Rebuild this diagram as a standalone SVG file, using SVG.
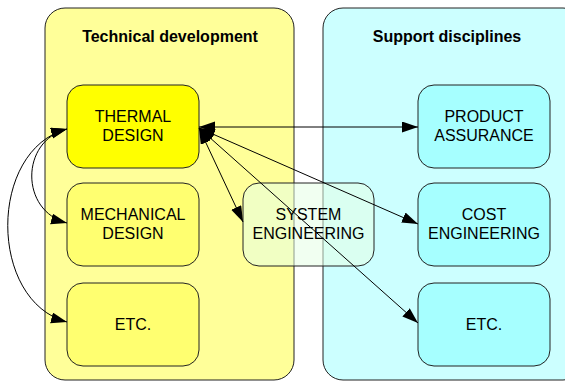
<svg xmlns="http://www.w3.org/2000/svg" width="565" height="381" viewBox="0 0 565 381">
<style>
.cont{stroke:#222;stroke-width:1}
.node{stroke:#222;stroke-width:1}
.t{font-family:"Liberation Sans",Arial,sans-serif;font-size:16px;fill:#000;text-anchor:middle}
.h{font-family:"Liberation Sans",Arial,sans-serif;font-size:16px;font-weight:bold;fill:#000;text-anchor:middle}
.c{fill:none;stroke:#000;stroke-width:1;marker-start:url(#ah);marker-end:url(#ah)}
</style>
<defs>
<marker id="ah" markerUnits="userSpaceOnUse" markerWidth="17" markerHeight="12" refX="16" refY="5.5" orient="auto-start-reverse">
<path d="M0,0 L16,5.5 L0,11 Z" fill="#000"/>
</marker>
</defs>
<rect width="565" height="381" fill="#fff"/>
<g id="technical-development">
<rect class="cont" x="45" y="8" width="249" height="372" rx="20" fill="#ffff99"/>
<text class="h" x="170" y="42">Technical development</text>
</g>
<g id="support-disciplines">
<rect class="cont" x="323" y="8" width="260" height="372" rx="20" fill="#ccffff"/>
<text class="h" x="447" y="42">Support disciplines</text>
</g>
<g id="thermal-design">
<rect class="node" x="67" y="85" width="132" height="83" rx="16" fill="#ffff00"/>
<text class="t" x="133" y="121.5">THERMAL</text>
<text class="t" x="133" y="141">DESIGN</text>
</g>
<g id="mechanical-design">
<rect class="node" x="67" y="183" width="132" height="83" rx="16" fill="#ffff70"/>
<text class="t" x="133" y="219.5">MECHANICAL</text>
<text class="t" x="133" y="239">DESIGN</text>
</g>
<g id="etc-left">
<rect class="node" x="67" y="283" width="132" height="83" rx="16" fill="#ffff70"/>
<text class="t" x="133" y="330">ETC.</text>
</g>
<g id="product-assurance">
<rect class="node" x="418" y="85" width="132" height="83" rx="16" fill="#a6ffff"/>
<text class="t" x="484" y="121.5">PRODUCT</text>
<text class="t" x="484" y="141">ASSURANCE</text>
</g>
<g id="cost-engineering">
<rect class="node" x="418" y="183" width="132" height="83" rx="16" fill="#a6ffff"/>
<text class="t" x="484" y="219.5">COST</text>
<text class="t" x="484" y="239">ENGINEERING</text>
</g>
<g id="etc-right">
<rect class="node" x="418" y="283" width="132" height="83" rx="16" fill="#a6ffff"/>
<text class="t" x="484" y="330">ETC.</text>
</g>
<g id="system-engineering">
<rect class="node" x="243" y="183" width="131" height="83" rx="16" fill="#e6ffe6" fill-opacity="0.55"/>
<text class="t" x="308.5" y="219.5">SYSTEM</text>
<text class="t" x="308.5" y="239">ENGINEERING</text>
</g>
<g id="connectors">
<path class="c" d="M199,127 L418,127"/>
<path class="c" d="M199,128 L243,222"/>
<path class="c" d="M199,128 L418,224"/>
<path class="c" d="M199,128 L418,323"/>
<path class="c" d="M67,129 C20,141 20,211 67,223"/>
<path class="c" d="M67,129 C-12,150 -12,301 67,322"/>
</g>
</svg>
